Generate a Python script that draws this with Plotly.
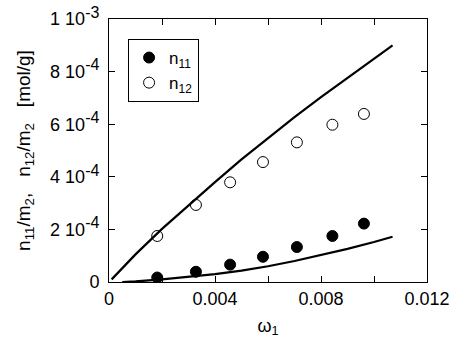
import plotly.graph_objects as go

# Experimental data
omega1 = [0.00182, 0.00328, 0.00457, 0.00581, 0.00709, 0.00843, 0.00962]
n11 = [0.17e-4, 0.39e-4, 0.66e-4, 0.96e-4, 1.33e-4, 1.75e-4, 2.22e-4]
n12 = [1.75e-4, 2.93e-4, 3.79e-4, 4.56e-4, 5.31e-4, 5.98e-4, 6.39e-4]

# Model curves
fit12_x = [0.0001, 0.001, 0.002, 0.003, 0.004, 0.005, 0.006, 0.007, 0.008, 0.009, 0.010, 0.0107]
fit12_y = [0.1e-4, 1.05e-4, 2.02e-4, 2.92e-4, 3.8e-4, 4.66e-4, 5.48e-4, 6.27e-4, 7.03e-4, 7.77e-4, 8.5e-4, 9.0e-4]
fit11_x = [0.0005, 0.001, 0.002, 0.003, 0.004, 0.005, 0.006, 0.007, 0.008, 0.009, 0.010, 0.0107]
fit11_y = [0.0, 0.02e-4, 0.1e-4, 0.2e-4, 0.3e-4, 0.43e-4, 0.6e-4, 0.8e-4, 1.02e-4, 1.26e-4, 1.52e-4, 1.72e-4]

SUP = "<sup><span style='font-size:16px'>{}</span></sup>\u00a0"
ytick_vals = [0, 2e-4, 4e-4, 6e-4, 8e-4, 1e-3]
ytick_text = ["0\u00a0", "2 10" + SUP.format("-4"), "4 10" + SUP.format("-4"), "6 10" + SUP.format("-4"),
              "8 10" + SUP.format("-4"), "1 10" + SUP.format("-3")]
xtick_vals = [0, 0.004, 0.008, 0.012]
xtick_text = ["0", "0.004", "0.008", "0.012"]

FONT = "Liberation Sans, Arial, sans-serif"

fig = go.Figure()
fig.add_trace(go.Scatter(x=fit12_x, y=fit12_y, mode="lines",
                         line=dict(color="black", width=2.2), showlegend=False))
fig.add_trace(go.Scatter(x=fit11_x, y=fit11_y, mode="lines",
                         line=dict(color="black", width=2.2), showlegend=False))
fig.add_trace(go.Scatter(x=omega1, y=n11, mode="markers", name="n<sub>11</sub>",
                         marker=dict(symbol="circle", size=11, color="black",
                                     line=dict(color="black", width=1))))
fig.add_trace(go.Scatter(x=omega1, y=n12, mode="markers", name="n<sub>12</sub>",
                         marker=dict(symbol="circle-open", size=11, color="black",
                                     line=dict(color="black", width=1))))

axis_common = dict(showline=True, linecolor="black", linewidth=1, mirror="ticks",
                   ticks="inside", ticklen=6, tickcolor="black", showgrid=False,
                   zeroline=False, automargin=False,
                   tickfont=dict(family=FONT, size=18, color="black"))

fig.update_xaxes(range=[0, 0.012], tickvals=xtick_vals, ticktext=xtick_text,
                 minor=dict(dtick=0.002, ticks="inside", ticklen=6, tickcolor="black"),
                 title=dict(text="ω<sub>1</sub>", font=dict(family=FONT, size=18, color="black"),
                            standoff=11),
                 **axis_common)
fig.update_yaxes(range=[0, 1e-3], tickvals=ytick_vals, ticktext=ytick_text,
                 title=dict(text="n<sub>11</sub>/m<sub>2</sub>,   n<sub>12</sub>/m<sub>2</sub>   [mol/g]",
                            font=dict(family=FONT, size=19, color="black"), standoff=14),
                 **axis_common)

fig.update_layout(
    width=454, height=342,
    margin=dict(l=109, r=27, t=19, b=60),
    plot_bgcolor="white", paper_bgcolor="white",
    font=dict(family=FONT, size=18, color="black"),
    legend=dict(x=0.06, y=0.924, xanchor="left", yanchor="top",
                bordercolor="black", borderwidth=1, bgcolor="white",
                font=dict(family=FONT, size=17, color="black"),
                itemwidth=30, tracegroupgap=2),
)

fig.write_html("out.html", config={"displayModeBar": False},
               post_script="document.body.style.margin='0';")
